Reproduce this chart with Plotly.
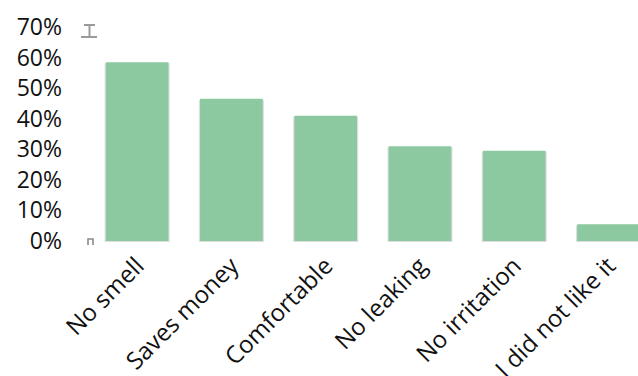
import plotly.graph_objects as go

categories = ["No smell", "Saves money", "Comfortable", "No leaking", "No irritation", "I did not like it"]
shares = [58.5, 46.5, 41.0, 31.0, 29.5, 5.5]
tick_values = [0, 10, 20, 30, 40, 50, 60, 70]
tick_labels = ["0%", "10%", "20%", "30%", "40%", "50%", "60%", "70%"]

W, H = 638, 376
ML, MR, MT, MB = 90, 0, 27, 132
PW, PH = W - ML - MR, H - MT - MB

def px_x(px):
    return (px - ML) / PW

def px_y(py):
    return (H - MB - py) / PH

fig = go.Figure()

# soft drop shadow behind each bar
fig.add_trace(go.Bar(
    x=categories, y=shares, base=-0.35, width=0.69,
    marker=dict(color="rgba(0,0,0,0.13)", line=dict(width=0)),
    hoverinfo="skip", showlegend=False,
))
fig.add_trace(go.Bar(
    x=categories, y=shares, width=0.665,
    marker=dict(color="#8cc9a0", line=dict(width=0)),
    showlegend=False,
))

grey = dict(color="#9a9a9a", width=2)
shapes = [
    # small handle glyph at the top of the value axis
    dict(type="line", xref="paper", yref="paper", x0=px_x(84), x1=px_x(95), y0=px_y(25), y1=px_y(25), line=grey),
    dict(type="line", xref="paper", yref="paper", x0=px_x(89.5), x1=px_x(89.5), y0=px_y(25), y1=px_y(37), line=grey),
    dict(type="line", xref="paper", yref="paper", x0=px_x(81), x1=px_x(97), y0=px_y(37), y1=px_y(37), line=grey),
    # small handle glyph at the bottom of the value axis
    dict(type="path", xref="paper", yref="paper",
         path=f"M {px_x(88)},{px_y(245)} L {px_x(88)},{px_y(239)} L {px_x(93)},{px_y(239)} L {px_x(93)},{px_y(245)}",
         line=dict(color="#8a8a8a", width=1.6)),
]

fig.update_layout(
    width=W, height=H,
    margin=dict(l=ML, r=MR, t=MT, b=MB, pad=0, autoexpand=False),
    paper_bgcolor="white", plot_bgcolor="white",
    barmode="overlay",
    font=dict(family="Open Sans", color="#111111"),
    shapes=shapes,
)
fig.update_xaxes(
    range=[-0.5, 5.313], showgrid=False, zeroline=False, showline=False,
    tickangle=-45, tickfont=dict(size=24, family="Open Sans", color="#111111"),
    ticks="", ticklabelstandoff=2, automargin=False,
)
fig.update_yaxes(
    range=[-1, 70], tickvals=tick_values, ticktext=tick_labels,
    showgrid=False, zeroline=False, showline=False, ticks="",
    tickfont=dict(size=23, family="Open Sans", color="#111111"),
    ticklabelstandoff=27, automargin=False,
)

fig.write_html("out.html")
